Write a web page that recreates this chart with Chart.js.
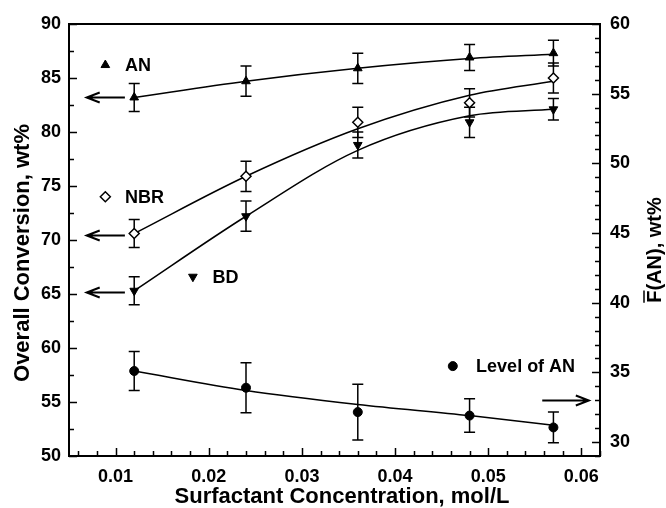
<!DOCTYPE html>
<html>
<head>
<meta charset="utf-8">
<script src="https://cdn.jsdelivr.net/npm/chart.js@4/dist/chart.umd.min.js"></script>
<style>
  html, body { margin: 0; padding: 0; background: #fff; }
  #wrap { width: 666px; height: 508px; position: relative; }
</style>
</head>
<body>
<div id="wrap"><canvas id="chart"></canvas></div>
<script>
// surfactant concentration, mol/L
var concentration = [0.012, 0.024, 0.036, 0.048, 0.057];

// overall conversion, wt% (left axis)
var anConv  = [83.2, 84.7, 85.9, 86.9, 87.3];
var anErr   = [1.3, 1.4, 1.4, 1.2, 1.2];
var nbrConv = [70.6, 75.9, 80.9, 82.7, 85.0];
var nbrErr  = [1.3, 1.4, 1.4, 1.3, 1.4];
var bdConv  = [65.3, 72.2, 78.8, 80.9, 82.1];
var bdErr   = [1.3, 1.4, 1.2, 1.4, 1.0];

// level of AN, F(AN) wt% (right axis)
var levelAN  = [35.1, 33.9, 32.15, 31.9, 31.05];
var levelErr = [1.4, 1.8, 2.0, 1.2, 1.1];

// smooth fit curves
var anFit    = [83.2, 84.7, 85.9, 86.8, 87.2];
var nbrFit   = [70.6, 75.9, 80.3, 83.4, 84.7];
var bdFit    = [65.3, 72.2, 78.3, 81.5, 82.1];
var levelFit = [35.1, 33.7, 32.7, 31.9, 31.2];

// tick labels
var xTickValues     = [0.01, 0.02, 0.03, 0.04, 0.05, 0.06];
var leftTickValues  = [50, 55, 60, 65, 70, 75, 80, 85, 90];
var rightTickValues = [30, 35, 40, 45, 50, 55, 60];

var FONT = '"Liberation Sans", Arial, sans-serif';

var MARK_UP   = { pointStyle: 'triangle', radius: 5, rotation: 0,   borderWidth: 1, backgroundColor: '#000', borderColor: '#000' };
var MARK_DN   = { pointStyle: 'triangle', radius: 5, rotation: 180, borderWidth: 1, backgroundColor: '#000', borderColor: '#000' };
var MARK_DIA  = { pointStyle: 'rectRot',  radius: 5, rotation: 0,   borderWidth: 1.5, backgroundColor: '#fff', borderColor: '#000' };
var MARK_DOT  = { pointStyle: 'circle',   radius: 4.5, rotation: 0, borderWidth: 1, backgroundColor: '#000', borderColor: '#000' };

// series labels + arrows pointing to the axis they belong to (data coords)
var seriesNotes = [
  { text: 'AN',          mark: MARK_UP,  axis: 'y',  mx: 0.0089, tx: 0.0110, y: 86.2,  arrow: { from: 0.0110, to: 0.0069, y: 83.2 } },
  { text: 'NBR',         mark: MARK_DIA, axis: 'y',  mx: 0.0089, tx: 0.0110, y: 74.0,  arrow: { from: 0.0110, to: 0.0069, y: 70.5 } },
  { text: 'BD',          mark: MARK_DN,  axis: 'y',  mx: 0.0183, tx: 0.0204, y: 66.6,  arrow: { from: 0.0110, to: 0.0069, y: 65.2 } },
  { text: 'Level of AN', mark: MARK_DOT, axis: 'y2', mx: 0.0462, tx: 0.0487, y: 35.45, arrow: { from: 0.0558, to: 0.0608, y: 33.0 } }
];

function pts(ys) {
  return concentration.map(function (c, i) { return { x: c, y: ys[i] }; });
}

function markerSet(label, ys, errs, mark, axis) {
  return {
    label: label, data: pts(ys), errors: errs, yAxisID: axis,
    showLine: false, order: 0,
    pointStyle: mark.pointStyle, pointRadius: mark.radius, pointRotation: mark.rotation,
    pointBackgroundColor: mark.backgroundColor, pointBorderColor: mark.borderColor,
    pointBorderWidth: mark.borderWidth
  };
}

function fitSet(label, ys, axis) {
  return {
    label: label, data: pts(ys), yAxisID: axis,
    showLine: true, pointRadius: 0, order: 1,
    borderColor: '#000', borderWidth: 1.5, fill: false,
    cubicInterpolationMode: 'monotone'
  };
}

var decor = {
  id: 'decor',
  beforeDatasetsDraw: function (chart) {
    var ctx = chart.ctx, xs = chart.scales.x;
    ctx.save();
    ctx.strokeStyle = '#000';
    ctx.lineWidth = 1.5;
    chart.data.datasets.forEach(function (ds) {
      if (!ds.errors) return;
      var ys = chart.scales[ds.yAxisID];
      ds.data.forEach(function (p, i) {
        var x = xs.getPixelForValue(p.x);
        var y1 = ys.getPixelForValue(p.y + ds.errors[i]);
        var y2 = ys.getPixelForValue(p.y - ds.errors[i]);
        ctx.beginPath();
        ctx.moveTo(x, y1); ctx.lineTo(x, y2);
        ctx.moveTo(x - 5.5, y1); ctx.lineTo(x + 5.5, y1);
        ctx.moveTo(x - 5.5, y2); ctx.lineTo(x + 5.5, y2);
        ctx.stroke();
      });
    });
    ctx.restore();
  },
  afterDraw: function (chart) {
    var ctx = chart.ctx, a = chart.chartArea;
    var xs = chart.scales.x, yl = chart.scales.y, yr = chart.scales.y2;
    var k, px, py, major;
    ctx.save();
    ctx.strokeStyle = '#000';
    ctx.fillStyle = '#000';

    // frame
    ctx.lineWidth = 2;
    ctx.strokeRect(a.left, a.top, a.right - a.left, a.bottom - a.top);

    // inward ticks
    ctx.lineWidth = 1.5;
    ctx.beginPath();
    for (k = 3; k <= 31; k++) {           // x: minor 0.002
      px = Math.round(xs.getPixelForValue(k * 0.002)) + 0.5;
      major = k % 5 === 0;
      ctx.moveTo(px, a.bottom); ctx.lineTo(px, a.bottom - (major ? 8 : 5));
    }
    for (k = 20; k <= 36; k++) {          // left: minor 2.5
      py = Math.round(yl.getPixelForValue(k * 2.5)) + 0.5;
      major = k % 2 === 0;
      ctx.moveTo(a.left, py); ctx.lineTo(a.left + (major ? 8 : 5), py);
    }
    for (k = 29; k <= 60; k++) {          // right: minor 1
      py = Math.round(yr.getPixelForValue(k)) + 0.5;
      major = k % 5 === 0;
      ctx.moveTo(a.right, py); ctx.lineTo(a.right - (major ? 8 : 5), py);
    }
    ctx.stroke();

    // series labels and arrows
    ctx.font = 'bold 18px ' + FONT;
    ctx.textAlign = 'left';
    ctx.textBaseline = 'middle';
    seriesNotes.forEach(function (n) {
      var ys = chart.scales[n.axis];
      var y = ys.getPixelForValue(n.y);
      ctx.fillStyle = n.mark.backgroundColor;
      ctx.strokeStyle = n.mark.borderColor;
      ctx.lineWidth = n.mark.borderWidth;
      Chart.helpers.drawPoint(ctx, n.mark, xs.getPixelForValue(n.mx), y);
      ctx.fillStyle = '#000';
      ctx.strokeStyle = '#000';
      ctx.fillText(n.text, xs.getPixelForValue(n.tx), y + 1);

      var ay = Math.round(ys.getPixelForValue(n.arrow.y)) + 0.5;
      var x1 = xs.getPixelForValue(n.arrow.from), x2 = xs.getPixelForValue(n.arrow.to);
      var dir = x2 > x1 ? -1 : 1;
      ctx.lineWidth = 2;
      ctx.beginPath();
      ctx.moveTo(x1, ay); ctx.lineTo(x2, ay);
      ctx.moveTo(x2 + dir * 13, ay - 5); ctx.lineTo(x2, ay); ctx.lineTo(x2 + dir * 13, ay + 5);
      ctx.stroke();
    });

    // axis titles
    ctx.textAlign = 'center';
    ctx.textBaseline = 'alphabetic';
    ctx.font = 'bold 22px ' + FONT;
    ctx.fillText('Surfactant Concentration, mol/L', 342, 503);

    ctx.save();
    ctx.translate(21, 253);
    ctx.rotate(-Math.PI / 2);
    ctx.fillText('Overall Conversion, wt%', 0, 8);
    ctx.restore();

    ctx.save();
    ctx.translate(654, 250);
    ctx.rotate(-Math.PI / 2);
    ctx.font = 'bold 20px ' + FONT;
    var t = 'F(AN), wt%';
    var w = ctx.measureText(t).width, wf = ctx.measureText('F').width;
    ctx.fillText(t, 0, 7);
    ctx.lineWidth = 1.5;
    ctx.beginPath();
    ctx.moveTo(-w / 2, -10); ctx.lineTo(-w / 2 + wf, -10);
    ctx.stroke();
    ctx.restore();

    ctx.restore();
  }
};

function fixedTicks(values) {
  return function (s) { s.ticks = values.map(function (v) { return { value: v }; }); };
}

var tickFont = { family: FONT, size: 18, weight: 'bold' };

new Chart(document.getElementById('chart'), {
  type: 'scatter',
  data: {
    datasets: [
      markerSet('AN', anConv, anErr, MARK_UP, 'y'),
      markerSet('NBR', nbrConv, nbrErr, MARK_DIA, 'y'),
      markerSet('BD', bdConv, bdErr, MARK_DN, 'y'),
      markerSet('Level of AN', levelAN, levelErr, MARK_DOT, 'y2'),
      fitSet('AN fit', anFit, 'y'),
      fitSet('NBR fit', nbrFit, 'y'),
      fitSet('BD fit', bdFit, 'y'),
      fitSet('Level of AN fit', levelFit, 'y2')
    ]
  },
  options: {
    responsive: true,
    maintainAspectRatio: false,
    animation: false,
    layout: { padding: { top: 24, left: 0, right: 0, bottom: 0 } },
    plugins: { legend: { display: false }, tooltip: { enabled: false } },
    scales: {
      x: {
        type: 'linear', position: 'bottom', min: 0.005, max: 0.062,
        afterBuildTicks: fixedTicks(xTickValues),
        afterFit: function (s) { s.height = 52; },
        grid: { display: false, drawTicks: false },
        border: { display: false },
        ticks: { color: '#000', font: tickFont, padding: 10, autoSkip: false, maxRotation: 0,
                 callback: function (v) { return v.toFixed(2); } }
      },
      y: {
        type: 'linear', position: 'left', min: 50, max: 90,
        afterBuildTicks: fixedTicks(leftTickValues),
        afterFit: function (s) { s.width = 69; },
        grid: { display: false, drawTicks: false },
        border: { display: false },
        ticks: { color: '#000', font: tickFont, padding: 8, autoSkip: false }
      },
      y2: {
        type: 'linear', position: 'right', min: 29, max: 60,
        afterBuildTicks: fixedTicks(rightTickValues),
        afterFit: function (s) { s.width = 66; },
        grid: { display: false, drawTicks: false },
        border: { display: false },
        ticks: { color: '#000', font: tickFont, padding: 10, autoSkip: false }
      }
    }
  },
  plugins: [decor]
});
</script>
</body>
</html>
